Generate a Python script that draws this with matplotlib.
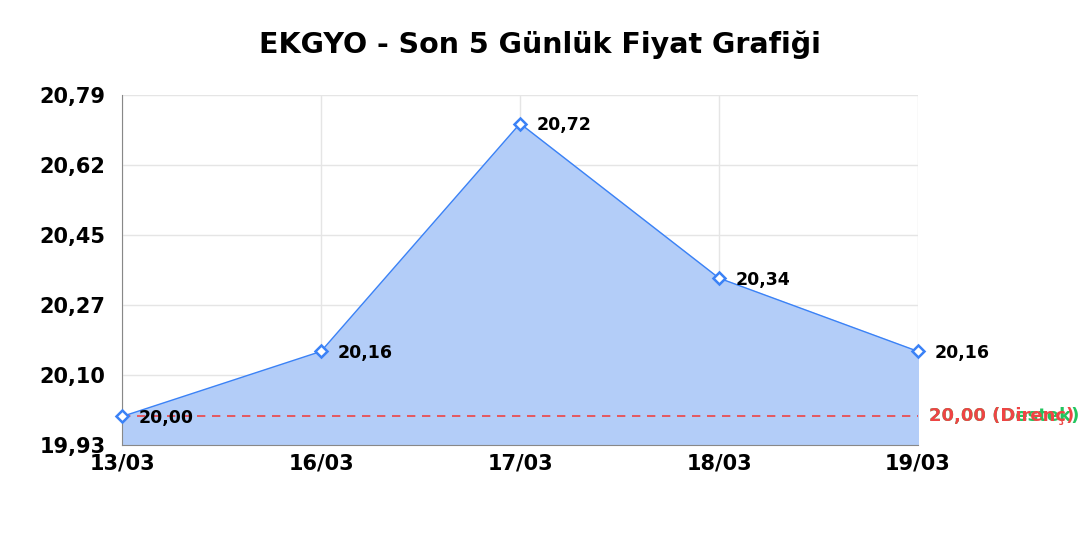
import numpy as np
import matplotlib
matplotlib.use("Agg")
import matplotlib.pyplot as plt

dates = ["13/03", "16/03", "17/03", "18/03", "19/03"]
prices = [20.00, 20.16, 20.72, 20.34, 20.16]
support = 20.00
resistance = 20.00
y_min, y_max = 19.93, 20.79

def tr(v):
    return f"{v:.2f}".replace(".", ",")

fig, ax = plt.subplots(figsize=(10.8, 5.4), dpi=100)
fig.subplots_adjust(left=0.113, right=0.85, top=0.824, bottom=0.176)

x = np.arange(len(dates))
ax.fill_between(x, prices, y_min, color="#b3cdf8", zorder=1)
ax.plot(x, prices, color="#3b82f6", lw=1, marker="D", ms=6.5,
        mfc="white", mec="#3b82f6", mew=1.8, zorder=3, clip_on=False)

for xi, p in zip(x, prices):
    ax.annotate(tr(p), (xi, p), xytext=(12, -1), textcoords="offset points",
                va="center", ha="left", fontsize=12.5, fontweight="bold", zorder=4)

ax.axhline(support, color="#ef4444", ls=(0, (5, 4)), lw=1.2, zorder=2)
ax.text(1.014, support, f"{tr(support)} (Destek)", transform=ax.get_yaxis_transform(),
        color="#22c55e", fontsize=13, fontweight="bold", va="center", ha="left")
ax.text(1.014, resistance, f"{tr(resistance)} (Direnç)", transform=ax.get_yaxis_transform(),
        color="#ef4444", fontsize=13, fontweight="bold", va="center", ha="left")

ax.set_xlim(0, len(dates) - 1)
ax.set_ylim(y_min, y_max)
yt = np.linspace(y_min, y_max, 6)
ax.set_yticks(yt)
ax.set_yticklabels([tr(v) for v in yt])
ax.set_xticks(x)
ax.set_xticklabels(dates)
for lab in ax.get_xticklabels() + ax.get_yticklabels():
    lab.set_fontweight("bold")
    lab.set_fontsize(15)
ax.tick_params(axis="y", length=0, pad=12)
ax.tick_params(axis="x", length=0, pad=6)

ax.grid(True, color="#e5e5e5", lw=1, zorder=0)
ax.set_axisbelow(True)
for s in ["top", "right"]:
    ax.spines[s].set_visible(False)
for s in ["left", "bottom"]:
    ax.spines[s].set_color("#888888")

fig.suptitle("EKGYO - Son 5 Günlük Fiyat Grafiği", fontsize=20.5, fontweight="bold",
             x=0.5, y=0.917, va="center")

fig.savefig("out.png", dpi=100)
